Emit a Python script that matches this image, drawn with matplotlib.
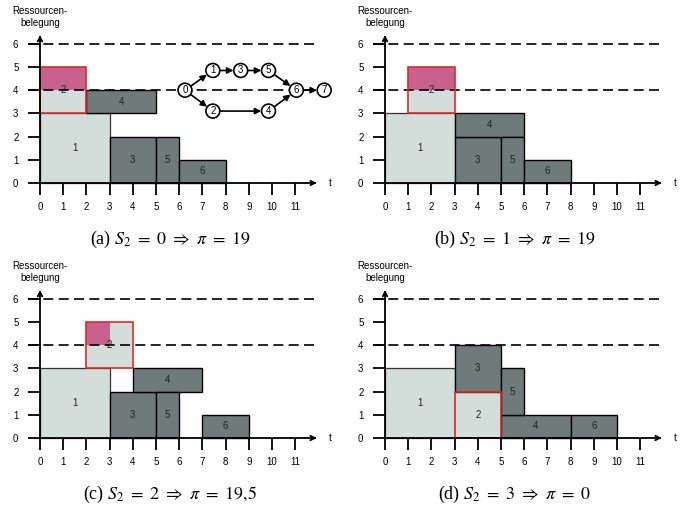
import matplotlib
matplotlib.use('Agg')
import matplotlib.pyplot as plt
from matplotlib.patches import Rectangle, Circle

plt.rcParams['font.family'] = ['Liberation Sans', 'DejaVu Sans']
plt.rcParams['mathtext.fontset'] = 'stix'

# ---------------- data ----------------
activities = [1, 2, 3, 4, 5, 6]
durations = [3, 2, 2, 3, 1, 2]
demands = [3, 2, 2, 1, 2, 1]
capacity = 4
max_capacity = 6

starts_a = [0, 0, 3, 2, 5, 6]
bottoms_a = [0, 3, 0, 3, 0, 0]
starts_b = [0, 1, 3, 3, 5, 6]
bottoms_b = [0, 3, 0, 2, 0, 0]
starts_c = [0, 2, 3, 4, 5, 7]
bottoms_c = [0, 3, 0, 2, 0, 0]
starts_d = [0, 3, 3, 5, 5, 8]
bottoms_d = [0, 0, 2, 0, 1, 0]

panel_letters = ['a', 'b', 'c', 'd']
s2_values = ['0', '1', '2', '3']
pi_values = ['19', '19', '19{,}5', '0']

x_ticks = list(range(12))
y_ticks = list(range(7))

net_nodes = [0, 1, 2, 3, 4, 5, 6, 7]
net_x = [6.25, 7.45, 7.45, 8.65, 9.85, 9.85, 11.05, 12.25]
net_y = [4.0, 4.85, 3.1, 4.85, 3.1, 4.85, 4.0, 4.0]
net_edges = [(0, 1), (0, 2), (1, 3), (3, 5), (5, 6), (2, 4), (4, 6), (6, 7)]

# ---------------- style ----------------
LIGHT = '#d3deda'
DARK = '#6e7b7a'
PINK = '#c8628c'
RED = '#dd2a2a'
light_acts = [1, 2]

W, H = 685, 505
fig = plt.figure(figsize=(W / 100, H / 100), dpi=100)

UNIT = 23.2
XL, XR = -1.2, 12.8
YB, YT = -1.3, 7.0
origins = [(40, 183), (385, 183), (40, 438), (385, 438)]
panels = [(starts_a, bottoms_a), (starts_b, bottoms_b),
          (starts_c, bottoms_c), (starts_d, bottoms_d)]


def load_at(t, starts):
    return sum(r for s, d, r in zip(starts, durations, demands) if s <= t < s + d)


for k, ((ox, oy), (starts, bottoms)) in enumerate(zip(origins, panels)):
    left_px = ox + XL * UNIT
    top_px = oy - YT * UNIT
    w_px = (XR - XL) * UNIT
    h_px = (YT - YB) * UNIT
    ax = fig.add_axes([left_px / W, 1 - (top_px + h_px) / H, w_px / W, h_px / H])
    ax.set_xlim(XL, XR)
    ax.set_ylim(YB, YT)
    ax.patch.set_alpha(0)

    for sp in ['top', 'right']:
        ax.spines[sp].set_visible(False)
    ax.spines['left'].set_position(('data', 0))
    ax.spines['bottom'].set_position(('data', 0))
    ax.spines['left'].set_bounds(0, 6.3)
    ax.spines['bottom'].set_bounds(0, 11.85)
    for sp in ['left', 'bottom']:
        ax.spines[sp].set_linewidth(1.3)
        ax.spines[sp].set_zorder(6)
    ax.set_xticks(x_ticks)
    ax.set_yticks(y_ticks)
    ax.tick_params(axis='both', direction='out', length=8.5, width=1.3,
                   labelsize=7, colors='black')
    ax.tick_params(axis='x', pad=5)
    ax.tick_params(axis='y', pad=7)

    ax.annotate('', xy=(12.05, 0), xytext=(11.6, 0),
                arrowprops=dict(arrowstyle='->', lw=1.3, color='black',
                                mutation_scale=8), annotation_clip=False)
    ax.annotate('', xy=(0, 6.5), xytext=(0, 6.05),
                arrowprops=dict(arrowstyle='->', lw=1.3, color='black',
                                mutation_scale=8), annotation_clip=False)
    ax.text(12.5, 0.02, 't', fontsize=7, ha='center', va='center')
    ax.text(0, 7.17, 'Ressourcen-\nbelegung', fontsize=7, ha='center',
            va='center', linespacing=1.25)

    # capacity lines
    for yv in [capacity, max_capacity]:
        ax.plot([-0.52, 11.85], [yv, yv], color='black', lw=1.2,
                dashes=(6, 3.2), zorder=4)

    # activities
    for a, s, d, r, b in zip(activities, starts, durations, demands, bottoms):
        if a in light_acts:
            ax.add_patch(Rectangle((s, b), d, r, facecolor=LIGHT,
                                   edgecolor='#333333' if a != 2 else 'none',
                                   lw=0.9, zorder=2))
        else:
            ax.add_patch(Rectangle((s, b), d, r, facecolor=DARK,
                                   edgecolor='black', lw=1.0, zorder=2))
        if a == 2:
            for t in range(s, s + d):
                over = load_at(t, starts) - capacity
                if over > 0:
                    ax.add_patch(Rectangle((t, b + r - over), 1, over,
                                           facecolor=PINK, edgecolor='none',
                                           zorder=2.5))
            ax.add_patch(Rectangle((s, b), d, r, facecolor='none',
                                   edgecolor=RED, lw=1.2, zorder=5))
        ax.text(s + d / 2, b + r / 2, str(a), fontsize=7, ha='center',
                va='center', color='#222222', zorder=5)

    # network in panel (a)
    if k == 0:
        for (i, j) in net_edges:
            ax.annotate('', xy=(net_x[j], net_y[j]), xytext=(net_x[i], net_y[i]),
                        arrowprops=dict(arrowstyle='-|>', lw=1.2, color='black',
                                        mutation_scale=9, shrinkA=5.2, shrinkB=5.2),
                        annotation_clip=False, zorder=6)
        for n, x, y in zip(net_nodes, net_x, net_y):
            ax.add_patch(Circle((x, y), 0.3, facecolor='white', edgecolor='black',
                                lw=1.2, zorder=7, clip_on=False))
            ax.text(x, y, str(n), fontsize=7, ha='center', va='center', zorder=8)

    cap = '(' + panel_letters[k] + ') ' + r'$S_2\ =\ ' + s2_values[k] + \
          r'\ \Rightarrow\ \pi\ =\ ' + pi_values[k] + '$'
    fig.text((ox + 130) / W, 1 - (oy + 56) / H, cap, fontsize=13,
             family='Liberation Serif', ha='center', va='center')

fig.savefig('out.png', dpi=100)
